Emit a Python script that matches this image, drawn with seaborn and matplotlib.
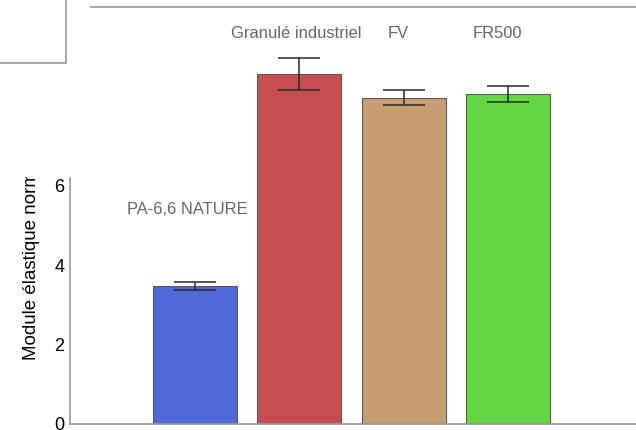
import matplotlib
matplotlib.use("Agg")
import matplotlib.pyplot as plt
import seaborn as sns
import pandas as pd
from matplotlib.lines import Line2D
from matplotlib.transforms import Bbox, TransformedBbox, IdentityTransform

categories = ["PA-6,6 NATURE", "Granulé industriel", "FV", "FR500"]
means = [3.48, 8.82, 8.21, 8.31]
errors = [0.10, 0.40, 0.19, 0.19]
colors = ["#5068D8", "#C64E50", "#C69E72", "#66D644"]
yticks = [0, 2, 4, 6]
ylabel = "Module élastique normalisé"

sns.set_theme(style="white")
plt.rcParams["font.family"] = ["Liberation Sans", "DejaVu Sans"]

df = pd.DataFrame({"cat": categories, "val": means})

fig = plt.figure(figsize=(6.36, 4.30), dpi=100)
ax = fig.add_axes([70 / 636, 6 / 430, 1 - 70 / 636, (424 - 7) / 430])

sns.barplot(data=df, x="cat", y="val", hue="cat", palette=colors, legend=False,
            width=0.805, edgecolor="#5a5a5a", linewidth=0.8, saturation=1, ax=ax)
ax.errorbar(range(len(categories)), means, yerr=errors, fmt="none",
            ecolor="#2a2a2a", elinewidth=1.1, capsize=15.1, capthick=1.1)

ax.set_xlim(-1.2, 4.23)
ax.set_ylim(0, 10.5)
ax.set_yticks(yticks)
ax.set_yticklabels([str(t) for t in yticks], fontsize=13, color="black")
ax.set_xticks([])
ax.set_xlabel("")
ax.set_ylabel("")
ax.tick_params(axis="y", direction="in", length=3, width=0.8, color="#999999", pad=4)

for s in ["left", "bottom", "top"]:
    ax.spines[s].set_visible(True)
    ax.spines[s].set_color("#9a9a9a")
    ax.spines[s].set_linewidth(1.2)
ax.spines["right"].set_visible(False)
ax.spines["left"].set_bounds(0, 6.2)
ax.spines["top"].set_bounds(-1.0, 4.23)

# category annotations
label_pos = [(-0.07, 5.39), (0.97, 9.83), (1.95, 9.83), (2.9, 9.83)]
for name, (lx, ly) in zip(categories, label_pos):
    ax.text(lx, ly, name, ha="center", va="center", fontsize=11.9, color="#666666")

yl = fig.text(31 / 636, 1 - 360 / 430, ylabel, rotation=90, ha="center", va="bottom",
              fontsize=13.5, color="black")
yl.set_clip_box(TransformedBbox(Bbox([[0, 0], [70, 430 - 177]]), IdentityTransform()))
yl.set_clip_on(True)

# corner frame
fig.add_artist(Line2D([66 / 636, 66 / 636], [1, 1 - 63 / 430], color="#9a9a9a", lw=1.2, transform=fig.transFigure))
fig.add_artist(Line2D([0, 66 / 636], [1 - 63 / 430, 1 - 63 / 430], color="#9a9a9a", lw=1.2, transform=fig.transFigure))

fig.savefig("out.png", dpi=100)
